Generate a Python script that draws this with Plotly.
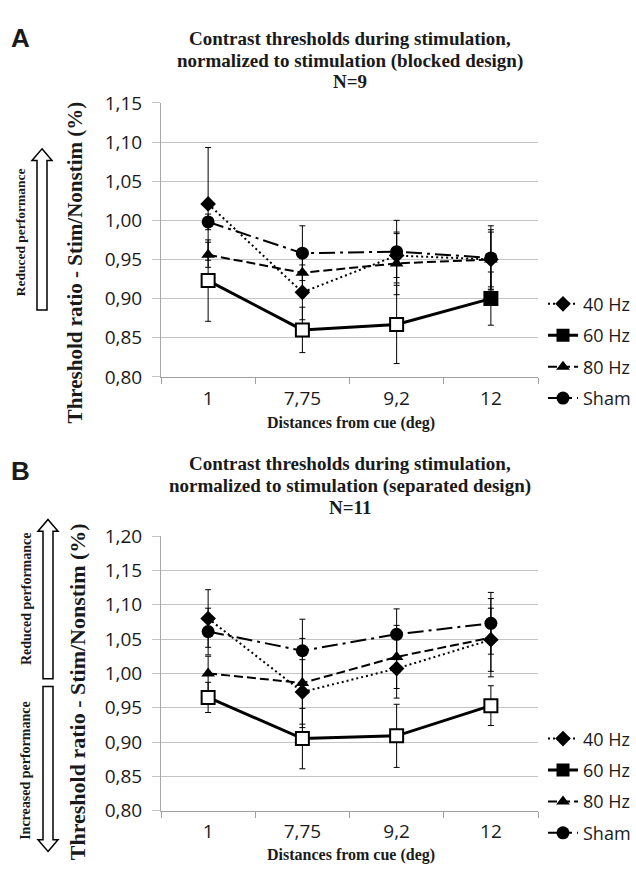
import plotly.graph_objects as go

W, H = 636, 877

# ---------------- data ----------------
distances = ["1", "7,75", "9,2", "12"]
series_names = ["40 Hz", "60 Hz", "80 Hz", "Sham"]

# Panel A (blocked design, N=9)
a_40 = [1.021, 0.908, 0.955, 0.950]
a_40_err = [0.072, 0.035, 0.028, 0.038]
a_60 = [0.923, 0.860, 0.867, 0.900]
a_60_err = [0.052, 0.029, 0.050, 0.034]
a_80 = [0.956, 0.933, 0.945, 0.950]
a_80_err = [0.016, 0.025, 0.040, 0.035]
a_sham = [0.998, 0.958, 0.960, 0.952]
a_sham_err = [0.010, 0.035, 0.040, 0.041]
a_60_fill = ["white", "white", "white", "black"]

# Panel B (separated design, N=11)
b_40 = [1.080, 0.973, 1.007, 1.049]
b_40_err = [0.042, 0.047, 0.043, 0.046]
b_60 = [0.965, 0.905, 0.909, 0.953]
b_60_err = [0.022, 0.044, 0.046, 0.029]
b_80 = [1.000, 0.986, 1.024, 1.052]
b_80_err = [0.025, 0.065, 0.046, 0.057]
b_sham = [1.061, 1.033, 1.057, 1.073]
b_sham_err = [0.034, 0.046, 0.037, 0.045]
b_60_fill = ["white", "white", "white", "white"]

# ---------------- helpers ----------------
def px(x):
    return x / W

def py(y):
    return 1 - y / H

SERIF = "Liberation Serif, Times New Roman, serif"
SANS = "Open Sans, sans-serif"
TXT = "#1a1a1a"

styles = {
    "40 Hz": dict(dash="2px,3px", width=2, symbol="diamond", size=12),
    "60 Hz": dict(dash="solid", width=3, symbol="square", size=13),
    "80 Hz": dict(dash="9px,4px", width=2, symbol="triangle-up", size=12),
    "Sham": dict(dash="16px,5px,3px,5px", width=2, symbol="circle", size=13),
}

fig = go.Figure()

def add_panel(vals, errs, fill60, xa, ya, legend):
    for name, v, e in zip(series_names, vals, errs):
        st = styles[name]
        mcolor = fill60 if name == "60 Hz" else "black"
        fig.add_trace(go.Scatter(
            x=distances, y=v, name=name, mode="lines+markers",
            xaxis=xa, yaxis=ya, legend=legend, legendgroup=legend + name,
            showlegend=(name != "60 Hz"),
            line=dict(color="black", width=st["width"], dash=st["dash"]),
            marker=dict(symbol=st["symbol"], size=st["size"], color=mcolor,
                        line=dict(color="black", width=2 if name == "60 Hz" else 0)),
            error_y=dict(type="data", array=e, symmetric=True, color="black",
                         thickness=1, width=3),
        ))
        if name == "60 Hz":
            # key entry drawn with a filled square, as in the original legend
            fig.add_trace(go.Scatter(
                x=[None], y=[None], name=name, mode="lines+markers",
                xaxis=xa, yaxis=ya, legend=legend, legendgroup=legend + name + "k",
                line=dict(color="black", width=st["width"]),
                marker=dict(symbol="square", size=st["size"], color="black"),
            ))

add_panel([a_40, a_60, a_80, a_sham], [a_40_err, a_60_err, a_80_err, a_sham_err],
          a_60_fill, "x", "y", "legend")
add_panel([b_40, b_60, b_80, b_sham], [b_40_err, b_60_err, b_80_err, b_sham_err],
          b_60_fill, "x2", "y2", "legend2")

xdom = [px(161), px(538)]

def xaxis(anchor):
    return dict(
        domain=xdom, anchor=anchor, type="category",
        categoryorder="array", categoryarray=distances,
        range=[-0.5, 3.5], tickson="boundaries", ticks="outside", ticklen=6,
        tickcolor="#a0a0a0", showline=True, linecolor="#a0a0a0", linewidth=1,
        showgrid=False, zeroline=False, ticklabelstandoff=4,
        tickfont=dict(family=SANS, size=19, color=TXT),
    )

def yaxis(anchor, dom, top):
    return dict(
        domain=dom, anchor=anchor, range=[0.80, top + 0.0002],
        tick0=0.8, dtick=0.05, tickformat=".2f",
        ticks="outside", ticklen=8, tickcolor="#c4c4c4",
        showline=True, linecolor="#a8a8a8", linewidth=1,
        showgrid=True, gridcolor="#c4c4c4", gridwidth=1, zeroline=False,
        ticklabelstandoff=6,
        tickfont=dict(family=SANS, size=19, color=TXT),
    )

legend_common = dict(
    xanchor="left", yanchor="top", bgcolor="rgba(0,0,0,0)",
    font=dict(family=SANS, size=18, color=TXT), itemwidth=30,
    tracegroupgap=5,
)

ann = []

def text(x, y, s, size, family=SERIF, angle=0, bold=True):
    ann.append(dict(
        x=px(x), y=py(y), xref="paper", yref="paper", showarrow=False,
        text=("<b>%s</b>" % s) if bold else s, textangle=angle,
        font=dict(family=family, size=size, color=TXT),
        xanchor="center", yanchor="middle",
    ))

# Panel A texts
text(20, 26, "A", 26, family="Liberation Sans, Arial, sans-serif")
text(350, 26, "Contrast thresholds during stimulation,", 19)
text(350, 49, "normalized to stimulation (blocked design)", 19)
text(350, 71, "N=9", 19)
text(351, 423, "Distances from cue (deg)", 16)
text(75, 257, "Threshold ratio - Stim/Nonstim (%)", 21, angle=-90)
text(20, 226, "Reduced performance", 13.5, angle=-90)

# Panel B texts
text(20, 472, "B", 26, family="Liberation Sans, Arial, sans-serif")
text(350, 464, "Contrast thresholds during stimulation,", 19)
text(350, 487, "normalized to stimulation (separated design)", 19)
text(350, 510, "N=11", 19)
text(351, 868, "Distances from cue (deg)", 16)
text(77, 700, "Threshold ratio - Stim/Nonstim (%)", 22, angle=-90)
text(26, 604, "Reduced performance", 14, angle=-90)
text(26, 781, "Increased performance", 14, angle=-90)

# Hollow block arrows
def block_arrow(cx, tip, base, hw=10, sw=5, hh=12):
    d = 1 if base > tip else -1
    pts = [
        (cx, tip),
        (cx + hw, tip + d * hh),
        (cx + sw, tip + d * hh),
        (cx + sw, base),
        (cx - sw, base),
        (cx - sw, tip + d * hh),
        (cx - hw, tip + d * hh),
    ]
    path = "M " + " L ".join("%.5f,%.5f" % (px(x), py(y)) for x, y in pts) + " Z"
    return dict(type="path", path=path, xref="paper", yref="paper",
                line=dict(color="black", width=1.5), fillcolor="white")

shapes = [
    block_arrow(42, 140, 306),
    block_arrow(48, 522, 686),
    block_arrow(48, 864, 694),
]

fig.update_layout(
    width=W, height=H, margin=dict(l=0, r=0, t=0, b=0),
    paper_bgcolor="white", plot_bgcolor="white",
    separators=", ",
    showlegend=True,
    xaxis=xaxis("y"),
    yaxis=yaxis("x", [py(375), py(92.5)], 1.15),
    xaxis2=xaxis("y2"),
    yaxis2=yaxis("x2", [py(822), py(539)], 1.20),
    legend=dict(x=px(543), y=py(281), **legend_common),
    legend2=dict(x=px(543), y=py(729), **legend_common),
    annotations=ann,
    shapes=shapes,
)

fig.write_html(
    "out.html",
    config={"displayModeBar": False},
    post_script="document.body.style.margin='0';document.body.style.overflow='hidden';",
)
